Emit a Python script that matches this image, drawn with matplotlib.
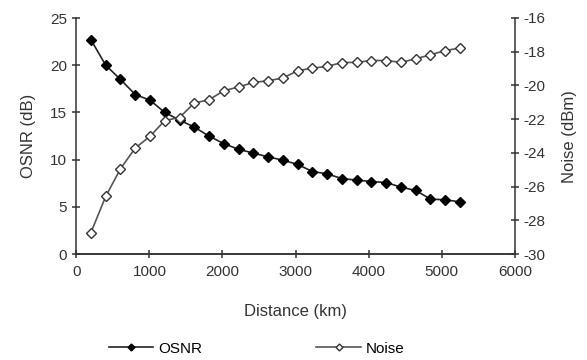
import matplotlib
matplotlib.use("Agg")
import matplotlib.pyplot as plt

# Data
distance_km = [200, 402, 604, 806, 1008, 1210, 1412, 1614, 1816, 2018,
               2220, 2422, 2624, 2826, 3028, 3230, 3432, 3634, 3836, 4038,
               4240, 4442, 4644, 4846, 5048, 5250]
osnr_db = [22.7, 20.0, 18.5, 16.9, 16.3, 15.0, 14.2, 13.45, 12.5, 11.7,
           11.1, 10.7, 10.3, 9.95, 9.5, 8.75, 8.5, 8.0, 7.84, 7.69,
           7.58, 7.1, 6.74, 5.83, 5.75, 5.54]
noise_dbm = [-28.72, -26.58, -24.94, -23.71, -23.02, -22.08, -21.90, -21.04, -20.85, -20.31,
             -20.09, -19.82, -19.72, -19.56, -19.13, -18.97, -18.87, -18.64, -18.63, -18.52,
             -18.52, -18.63, -18.42, -18.18, -17.93, -17.78]

x_ticks = [0, 1000, 2000, 3000, 4000, 5000, 6000]
left_ticks = [0, 5, 10, 15, 20, 25]
right_ticks = [-30, -28, -26, -24, -22, -20, -18, -16]

plt.rcParams['font.family'] = ['Liberation Sans', 'DejaVu Sans']
plt.rcParams['font.size'] = 11
plt.rcParams['axes.unicode_minus'] = False

fig = plt.figure(figsize=(5.87, 3.6), dpi=100)
ax = fig.add_axes([0.130, 0.294, 0.747, 0.656])
ax2 = ax.twinx()

l1, = ax.plot(distance_km, osnr_db, color='#222222', lw=1.2, marker='D',
              markersize=5, markerfacecolor='black', markeredgecolor='black',
              label='OSNR')
l2, = ax2.plot(distance_km, noise_dbm, color='#555555', lw=1.2, marker='D',
               markersize=5, markerfacecolor='white', markeredgecolor='#333333',
               label='Noise')

ax.set_xlim(0, 6000)
ax.set_ylim(0, 25)
ax2.set_ylim(-30, -16)
ax.set_xticks(x_ticks)
ax.set_yticks(left_ticks)
ax2.set_yticks(right_ticks)

for a in (ax, ax2):
    a.spines['top'].set_visible(False)
    for s in a.spines.values():
        s.set_color('#333333')
        s.set_linewidth(1.1)
    a.tick_params(direction='inout', length=6, width=1.1, colors='#333333',
                  labelcolor='#333333', labelsize=11)
ax2.spines['left'].set_visible(False)
ax.spines['right'].set_visible(False)
ax.tick_params(axis='x', pad=5)

ax.set_xlabel('Distance (km)', fontsize=12, color='#333333', labelpad=18)
ax.set_ylabel('OSNR (dB)', fontsize=12, color='#333333', labelpad=10)
ax2.set_ylabel('Noise (dBm)', fontsize=12, color='#333333', labelpad=12, rotation=90)

fig.legend([l1, l2], ['OSNR', 'Noise'], loc='center', ncol=2,
           bbox_to_anchor=(0.437, 0.031), frameon=False, columnspacing=7.5,
           handlelength=2.9, handletextpad=0.3, markerscale=0.7, fontsize=11)

fig.savefig('out.png', dpi=100)
